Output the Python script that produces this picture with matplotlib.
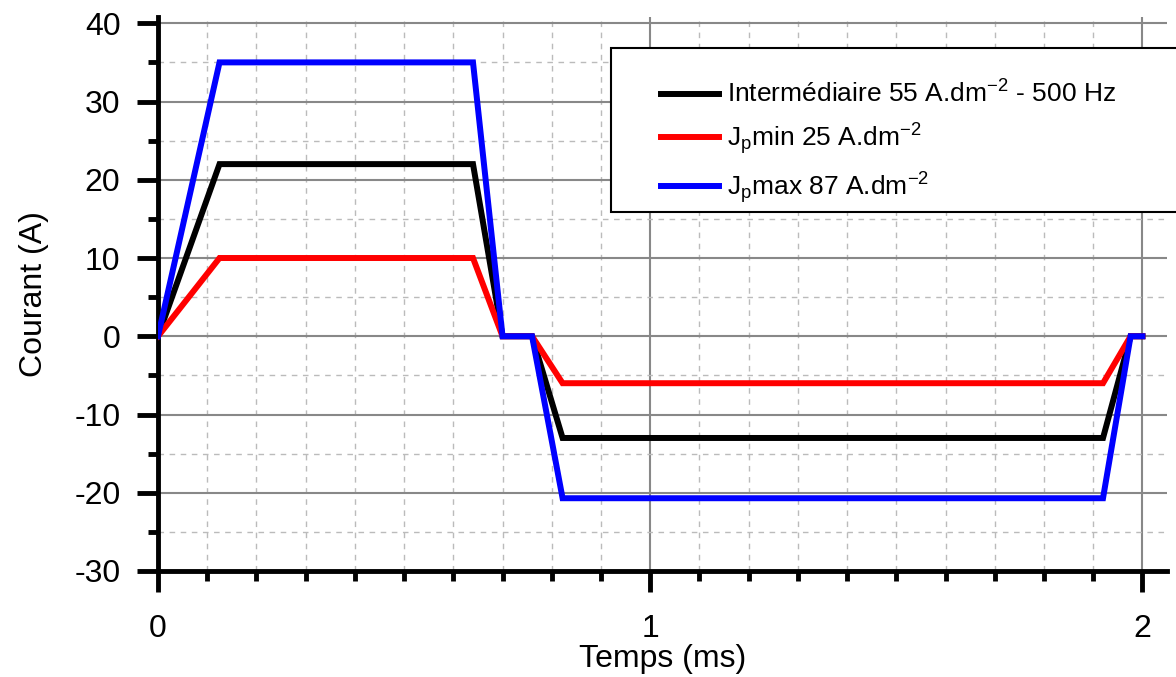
import matplotlib
matplotlib.use('Agg')
import matplotlib.pyplot as plt
from matplotlib.ticker import MultipleLocator
from matplotlib.patches import Rectangle

plt.rcParams['font.family'] = ['Liberation Sans', 'DejaVu Sans']
plt.rcParams['mathtext.fontset'] = 'custom'
plt.rcParams['mathtext.rm'] = 'Liberation Sans'
plt.rcParams['mathtext.it'] = 'Liberation Sans'
plt.rcParams['axes.unicode_minus'] = False

# temps (ms) aux points de la forme d'onde
temps = [0, 0.125, 0.64, 0.70, 0.76, 0.822, 1.92, 1.976, 2.0]
# courant (A)
i_inter = [0, 22, 22, 0, 0, -13, -13, 0, 0]
i_min = [0, 10, 10, 0, 0, -6, -6, 0, 0]
i_max = [0, 35, 35, 0, 0, -20.7, -20.7, 0, 0]

labels = ['Intermédiaire 55 A.dm$^{\\mathregular{-2}}$ - 500 Hz',
          'J$_{\\mathregular{p}}$min 25 A.dm$^{\\mathregular{-2}}$',
          'J$_{\\mathregular{p}}$max 87 A.dm$^{\\mathregular{-2}}$']
couleurs = ['black', 'red', 'blue']

fig = plt.figure(figsize=(11.76, 6.77), dpi=100)
ax = fig.add_axes([158 / 1176, 1 - 571 / 677, (1167 - 158) / 1176, (571 - 17) / 677])

for y, lab, c in zip([i_inter, i_min, i_max], labels, couleurs):
    ax.plot(temps, y, color=c, lw=4.3, label=lab, solid_joinstyle='miter', zorder=3)

ax.set_xlim(0, 2.05)
ax.set_ylim(-30, 40.8)
ax.xaxis.set_major_locator(MultipleLocator(1))
ax.xaxis.set_minor_locator(MultipleLocator(0.1))
ax.yaxis.set_major_locator(MultipleLocator(10))
ax.yaxis.set_minor_locator(MultipleLocator(5))

ax.grid(which='major', color='#888888', lw=1.5, ls='-')
ax.grid(which='minor', color='#bbbbbb', lw=1, ls=(0, (4, 4)))
ax.set_axisbelow(True)

for s in ['top', 'right']:
    ax.spines[s].set_visible(False)
for s in ['left', 'bottom']:
    ax.spines[s].set_linewidth(3.5)

ax.tick_params(which='major', direction='out', length=15, width=3.5, labelsize=23, pad=12)
ax.tick_params(which='minor', direction='out', length=7, width=3.5)
ax.tick_params(axis='x', which='major', pad=16)

ax.set_xlabel('Temps (ms)', fontsize=23, labelpad=0)
ax.set_ylabel('Courant (A)', fontsize=23, labelpad=18)

# cadre de la légende
rect = Rectangle((611 / 1176, 1 - 212 / 677), 0.6, (212 - 48) / 677,
                 transform=fig.transFigure, facecolor='white', edgecolor='black',
                 lw=1.5, zorder=4, clip_on=False)
fig.patches.append(rect)

leg = fig.legend(loc='upper left', bbox_to_anchor=(637 / 1176, 1 - 57 / 677),
                 frameon=False, fontsize=19, handlelength=2.2, handletextpad=0.3,
                 labelspacing=0.5)
leg.set_zorder(5)

fig.savefig('out.png', dpi=100)
